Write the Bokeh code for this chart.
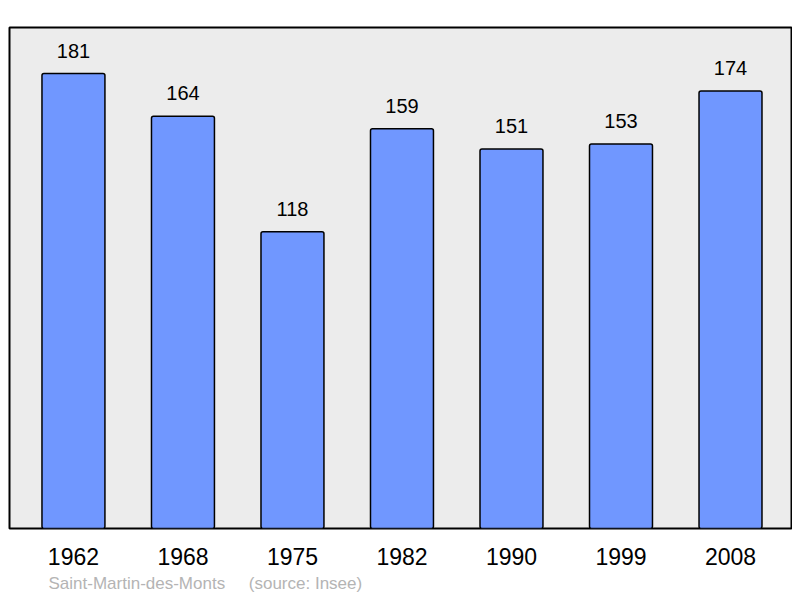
from bokeh.plotting import figure
from bokeh.models import FixedTicker, Range1d, Title, ColumnDataSource
from bokeh.core.properties import value
from bokeh.embed import file_html
from bokeh.resources import INLINE

years = ["1962", "1968", "1975", "1982", "1990", "1999", "2008"]
population = [181, 164, 118, 159, 151, 153, 174]
place = "Saint-Martin-des-Monts"
source = "(source: Insee)"

xs = list(range(len(years)))
src = ColumnDataSource(dict(x=xs, top=population, lab=[str(v) for v in population]))

p = figure(width=792, height=596, output_backend="svg", toolbar_location=None,
           x_range=Range1d(-0.584, 6.557), y_range=Range1d(0, 199.3),
           min_border_left=9, min_border_right=1, min_border_top=27, min_border_bottom=64)
p.background_fill_color = "#ececec"
p.border_fill_color = "white"
p.outline_line_color = "black"
p.outline_line_width = 2
p.grid.visible = False
p.yaxis.visible = False

p.vbar(x="x", top="top", bottom=0, width=0.575, source=src,
       fill_color="#7097ff", line_color="black", line_width=1.5, border_radius=2)
p.text(x="x", y="top", text="lab", source=src, text_align="center", text_baseline="alphabetic",
       y_offset=-23, text_font=value("Liberation Sans"), text_font_size="20px", text_color="black")

ax = p.xaxis[0]
ax.ticker = FixedTicker(ticks=xs)
ax.major_label_overrides = {i: y for i, y in enumerate(years)}
ax.axis_line_color = None
ax.major_tick_line_color = None
ax.minor_tick_line_color = None
ax.major_label_standoff = 13
ax.major_label_text_font = "Liberation Sans"
ax.major_label_text_font_size = "23px"
ax.major_label_text_color = "black"

footer = Title(text=place + "\u00a0" * 5 + source, align="left", offset=39,
               text_font="Liberation Sans", text_font_size="17px", text_color="#b4b4b4",
               text_font_style="normal", standoff=8)
p.add_layout(footer, "below")

open("out.html", "w").write(file_html(p, INLINE))
